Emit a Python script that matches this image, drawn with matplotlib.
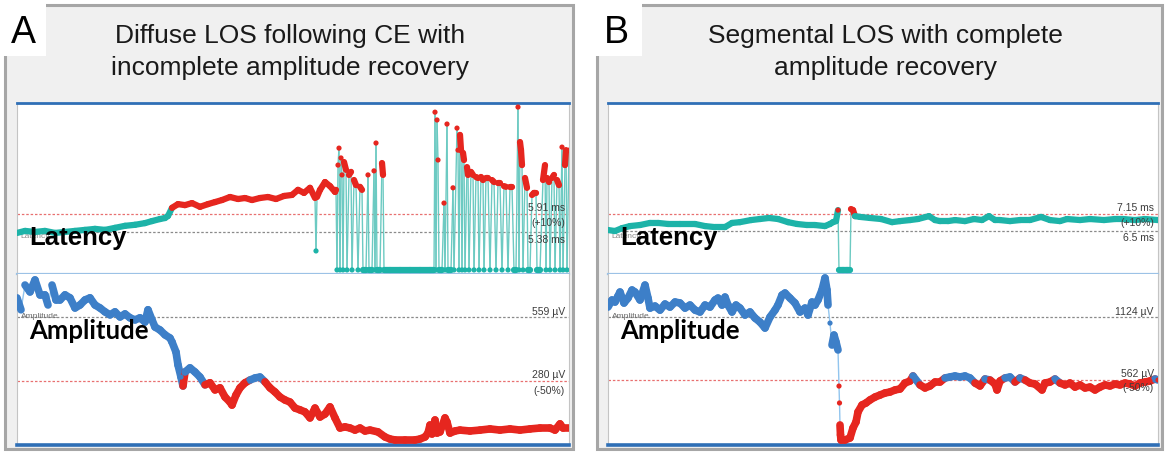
import matplotlib
matplotlib.use("Agg")
import matplotlib.pyplot as plt
import numpy as np
from matplotlib.collections import LineCollection
from matplotlib.patches import Rectangle

plt.rcParams["font.family"] = ["Liberation Sans", "DejaVu Sans"]

# ── data ────────────────────────────────────────────────────────────────────
# Panel A: latency (ms) vs. time index
a_lat_t = [
    0, 8, 18, 28, 38, 48, 58, 68, 78, 88,
    98, 108, 118, 128, 135, 143, 148, 151, 155, 161,
    168, 175, 183, 191, 198, 205, 213, 221, 228, 235,
    243, 251, 259, 267, 275, 281, 287, 293, 298, 299,
    300, 303, 308, 313, 318,
    319, 320, 321, 322, 323, 324, 325, 326, 327, 329,
    330, 332, 334, 335, 337, 339, 341, 343, 345, 346,
    349, 351, 352, 355, 357, 358, 359, 360, 363, 365,
    366, 367, 373, 383, 393, 403, 413, 417, 418, 419,
    420, 421, 422, 425, 427, 428, 430, 431, 434, 436,
    437, 440, 441, 442, 443, 444, 445, 446, 447, 448,
    450, 451, 452, 454, 456, 457, 459, 461, 462, 464,
    466, 467, 469, 471, 473, 475, 477, 479, 481, 483,
    485, 487, 489, 491, 493, 495, 497, 499, 501, 502,
    503, 504, 505, 506, 508, 510, 511, 513, 515, 517,
    519, 520, 523, 526, 528, 529, 530, 532, 533, 535,
    537, 538, 540, 542, 543, 545, 546, 548, 549, 550,
    552,
]
a_lat_ms = [
    5.35, 5.41, 5.38, 5.41, 5.35, 5.38, 5.41, 5.44, 5.47, 5.44,
    5.50, 5.56, 5.59, 5.64, 5.70, 5.76, 5.79, 5.85, 6.09, 6.20,
    6.17, 6.23, 6.12, 6.20, 6.26, 6.32, 6.41, 6.35, 6.38, 6.32,
    6.38, 6.41, 6.35, 6.44, 6.47, 6.62, 6.53, 6.68, 6.38, 4.82,
    6.41, 6.62, 6.85, 6.73, 6.56,
    6.62, 4.26, 7.35, 7.85, 4.26, 7.56, 7.06, 4.26, 7.44, 7.21,
    4.26, 7.06, 7.15, 4.26, 6.91, 6.76, 4.26, 6.71, 6.62, 4.26,
    4.26, 7.06, 4.26, 4.26, 7.18, 4.26, 8.00, 4.26, 4.26, 7.41,
    7.06, 4.26, 4.26, 4.26, 4.26, 4.26, 4.26, 4.26, 8.91, 4.26,
    8.68, 7.50, 4.26, 4.26, 6.23, 4.26, 8.56, 4.26, 4.26, 6.68,
    4.26, 8.44, 7.79, 4.26, 8.24, 7.79, 4.26, 7.71, 7.50, 4.26,
    7.29, 7.06, 4.26, 7.15, 7.06, 4.26, 7.00, 6.97, 4.26, 7.00,
    6.91, 4.26, 6.97, 6.97, 4.26, 6.91, 6.85, 4.26, 6.82, 6.82,
    4.26, 6.73, 6.71, 4.26, 6.71, 6.71, 4.26, 4.26, 9.06, 4.26,
    8.03, 7.79, 7.35, 4.26, 6.97, 6.68, 4.26, 4.26, 6.47, 6.53,
    6.53, 4.26, 4.26, 6.91, 7.35, 4.26, 6.97, 6.85, 4.26, 6.97,
    7.06, 4.26, 6.91, 6.76, 4.26, 7.88, 4.26, 7.35, 7.79, 4.26,
    7.79,
]
a_lat_base, a_lat_alarm = 5.38, 5.91

# Panel A: amplitude (µV)
a_amp_t = [
    0, 4, 8, 13, 18, 23, 28, 31, 35, 39,
    43, 48, 53, 58, 63, 68, 73, 78, 83, 88,
    93, 98, 103, 108, 113, 118, 123, 128, 131, 135,
    138, 143, 148, 153, 155, 159, 161, 164, 166, 168,
    173, 178, 183, 188, 193, 198, 203, 208, 213, 215,
    219, 223, 228, 233, 238, 243, 248, 253, 258, 263,
    268, 273, 278, 283, 288, 293, 298, 303, 308, 313,
    318, 323, 328, 333, 338, 343, 348, 353, 361, 368,
    373, 378, 388, 398, 403, 408, 411, 413, 415, 418,
    420, 423, 428, 430, 433, 438, 443, 453, 463, 473,
    483, 493, 503, 513, 523, 533, 538, 543, 546, 552,
]
a_amp_uv = [
    642, 590, 698, 668, 720, 655, 655, 611, 698, 633,
    633, 655, 642, 598, 611, 633, 642, 611, 598, 581,
    568, 581, 559, 572, 555, 546, 555, 537, 590, 546,
    515, 502, 481, 467, 450, 406, 350, 297, 258, 319,
    337, 319, 297, 263, 272, 241, 250, 210, 188, 175,
    219, 250, 272, 284, 293, 297, 276, 250, 232, 210,
    197, 188, 162, 154, 145, 119, 162, 123, 136, 167,
    119, 75, 80, 75, 66, 75, 62, 66, 58, 36,
    27, 23, 23, 23, 27, 36, 53, 88, 49, 110,
    53, 58, 119, 101, 53, 62, 66, 62, 66, 71,
    66, 71, 66, 71, 75, 75, 66, 93, 75, 75,
]
a_amp_base, a_amp_alarm = 559, 280

# Panel B: latency (ms)
b_lat_t = [
    0, 7, 14, 22, 32, 42, 50, 60, 72, 87,
    97, 107, 117, 124, 132, 143, 152, 161, 170, 180,
    189, 199, 207, 217, 222, 225, 228, 230, 231, 235,
    239, 242, 243, 245, 247, 252, 262, 273, 284, 292,
    302, 310, 321, 327, 332, 340, 347, 357, 366, 374,
    381, 387, 392, 402, 412, 422, 433, 442, 452, 459,
    472, 482, 496, 507, 515, 527, 537, 550,
]
b_lat_ms = [
    6.54, 6.50, 6.61, 6.69, 6.73, 6.81, 6.81, 6.77, 6.77, 6.77,
    6.69, 6.65, 6.65, 6.81, 6.84, 6.92, 6.96, 7.00, 6.96, 6.84,
    6.77, 6.73, 6.73, 6.69, 6.77, 6.84, 6.88, 7.30, 5.01, 5.01,
    5.01, 5.01, 7.34, 7.30, 7.07, 7.04, 7.00, 6.96, 6.84, 6.88,
    6.92, 6.96, 7.07, 6.92, 6.88, 6.88, 6.92, 6.88, 6.96, 6.92,
    7.07, 6.92, 6.92, 6.88, 6.92, 6.92, 7.04, 6.92, 6.88, 6.96,
    6.92, 6.96, 6.92, 6.96, 6.96, 6.92, 6.96, 6.92,
]
b_lat_base, b_lat_alarm = 6.5, 7.15

# Panel B: amplitude (µV)
b_amp_t = [
    0, 4, 7, 10, 12, 16, 20, 24, 27, 32,
    37, 40, 42, 47, 52, 57, 62, 67, 72, 77,
    82, 87, 92, 97, 102, 107, 110, 114, 117, 120,
    124, 128, 132, 137, 142, 147, 152, 157, 162, 167,
    170, 174, 177, 182, 187, 192, 197, 200, 204, 207,
    210, 214, 217, 219, 220, 222, 224, 226, 228, 230,
    231, 231.5, 232, 232.5, 233, 237, 242, 245, 248, 250,
    254, 258, 262, 267, 272, 277, 282, 287, 292, 297,
    302, 305, 312, 317, 322, 327, 332, 337, 342, 347,
    352, 357, 362, 367, 372, 377, 382, 387, 389, 392,
    397, 402, 407, 412, 417, 422, 427, 434, 437, 442,
    447, 452, 457, 462, 467, 472, 477, 482, 487, 492,
    497, 502, 507, 512, 517, 522, 527, 532, 537, 542,
    547, 550,
]
b_amp_uv = [
    1213, 1276, 1258, 1311, 1347, 1249, 1293, 1365, 1347, 1276,
    1409, 1293, 1204, 1222, 1186, 1240, 1213, 1258, 1249, 1204,
    1231, 1186, 1169, 1231, 1213, 1276, 1293, 1231, 1302, 1231,
    1169, 1231, 1204, 1142, 1169, 1115, 1079, 1026, 1124, 1186,
    1231, 1320, 1338, 1293, 1249, 1169, 1204, 1142, 1258, 1231,
    1276, 1365, 1472, 1365, 1231, 1070, 874, 963, 901, 830,
    508, 357, 161, 72, 27, 27, 45, 134, 187, 277,
    339, 357, 384, 410, 428, 446, 455, 473, 482, 535,
    553, 598, 518, 491, 509, 544, 544, 580, 589, 598,
    589, 598, 580, 535, 509, 571, 562, 526, 473, 553,
    580, 589, 544, 580, 562, 535, 526, 473, 535, 544,
    571, 535, 518, 535, 499, 518, 491, 499, 473, 499,
    518, 509, 526, 518, 535, 526, 509, 535, 544, 553,
    571, 562,
]
b_amp_base, b_amp_alarm = 1124, 562

# ── styling ───────────────────────────────────────────────────────────────
W, H = 1168, 457
RED = "#e6261f"
TEAL = "#1db3a8"
BLUE = "#3d7fc8"
TEAL_STEM = "#6ccac2"
BLUE_STEM = "#92c5ee"
EDGE_BLUE = "#2f6fb6"
SEP_BLUE = "#9cc2e6"
LABEL_FONT = ["Liberation Sans Narrow", "Liberation Sans", "DejaVu Sans"]


def px_rect(x0, y0, x1, y1):
    """pixel box (top-left origin) -> figure fraction rect."""
    return [x0 / W, 1 - y1 / H, (x1 - x0) / W, (y1 - y0) / H]


def setup_ax(ax, xmax, ylim, top, bottom):
    ax.set_xlim(0, xmax)
    ax.set_ylim(*ylim)
    ax.set_xticks([])
    ax.set_yticks([])
    for s in ("left", "right"):
        ax.spines[s].set_color("#c4c4c4")
        ax.spines[s].set_linewidth(0.8)
    for s, spec in (("top", top), ("bottom", bottom)):
        if spec is None:
            ax.spines[s].set_visible(False)
        else:
            ax.spines[s].set_color(spec[0])
            ax.spines[s].set_linewidth(spec[1])


def draw_trace(ax, t, v, thr, hi_col, lo_col, stem_col, lw):
    t = np.asarray(t, float)
    v = np.asarray(v, float)
    col = np.where(v > thr, hi_col, lo_col)
    pts = np.column_stack([t, v])
    segs = np.stack([pts[:-1], pts[1:]], axis=1)
    lo, hi = ax.get_ylim()
    jump = np.abs(np.diff(v)) > 0.09 * (hi - lo)
    ax.add_collection(LineCollection(segs[jump], colors=stem_col,
                                     linewidths=1.0, zorder=2))
    ax.add_collection(LineCollection(segs[~jump], colors=list(col[:-1][~jump]),
                                     linewidths=lw, capstyle="round", zorder=3))
    ax.scatter(t, v, s=14, c=list(col), linewidths=0, zorder=4)


def thresh(ax, base, alarm, labels):
    """labels: (text, 'alarm'|'base', dy in points)."""
    ax.axhline(alarm, color="#e87070", lw=0.9, ls=(0, (2, 1.5)), zorder=1)
    ax.axhline(base, color="#8a8a8a", lw=0.9, ls=(0, (2, 1.5)), zorder=1)
    for txt, which, dy in labels:
        yv = alarm if which == "alarm" else base
        ax.annotate(txt, xy=(1, yv), xycoords=("axes fraction", "data"),
                    xytext=(-3, dy), textcoords="offset points",
                    ha="right", va="center", fontsize=7.5, color="#3c3c3c",
                    family=LABEL_FONT, zorder=5)


def draw_panel(fig, frame, x0, x1, tag, tag_box, title, title_cx,
               lat_t, lat_v, lat_lim, lat_thr, lat_lab,
               amp_t, amp_v, amp_lim, amp_thr, amp_lab):
    fx0, fy0, fx1, fy1 = frame
    fig.patches.append(Rectangle((fx0 / W, 1 - fy1 / H), (fx1 - fx0) / W,
                                 (fy1 - fy0) / H, transform=fig.transFigure,
                                 facecolor="#f0f0f0", edgecolor="#a6a6a6",
                                 lw=2.2, zorder=-2))
    bx0, by0, bx1, by1 = tag_box
    fig.patches.append(Rectangle((bx0 / W, 1 - by1 / H), (bx1 - bx0) / W,
                                 (by1 - by0) / H, transform=fig.transFigure,
                                 facecolor="white", edgecolor="none", zorder=-1))
    fig.text((bx0 + bx1) / 2 / W, 1 - 33 / H, tag, fontsize=27,
             ha="center", va="center")
    fig.text(title_cx / W, 1 - 52 / H, title, fontsize=19, ha="center",
             va="center", linespacing=1.45, color="#1a1a1a")

    xmax = x1 - x0
    ax_lat = fig.add_axes(px_rect(x0, 103, x1, 274))
    setup_ax(ax_lat, xmax, lat_lim, (EDGE_BLUE, 2.0), (SEP_BLUE, 1.6))
    ax_amp = fig.add_axes(px_rect(x0, 274, x1, 445))
    setup_ax(ax_amp, xmax, amp_lim, None, (EDGE_BLUE, 2.6))

    thresh(ax_lat, lat_thr[0], lat_thr[1], lat_lab)
    thresh(ax_amp, amp_thr[0], amp_thr[1], amp_lab)

    draw_trace(ax_lat, lat_t, lat_v, lat_thr[1], RED, TEAL, TEAL_STEM, 4.5)
    draw_trace(ax_amp, amp_t, amp_v, amp_thr[1], BLUE, RED, BLUE_STEM, 5.5)

    # software labels underneath, big annotation labels on top
    ax_lat.text(0.006, 0.22, "Latency", transform=ax_lat.transAxes,
                fontsize=6, color="#8a8a8a", va="center", zorder=1)
    ax_amp.text(0.008, 0.75, "Amplitude", transform=ax_amp.transAxes,
                fontsize=6, color="#6a6a6a", va="center", zorder=1)
    fig.text((x0 + 12) / W, 1 - 238 / H, "Latency", fontsize=18.5,
             fontweight="bold", va="center", zorder=10)
    fig.text((x0 + 12) / W, 1 - 331 / H, "Amplitude", fontsize=18.5,
             fontweight="bold", va="center", zorder=10,
             family=["Lato", "DejaVu Sans"])


fig = plt.figure(figsize=(W / 100, H / 100), dpi=100)

draw_panel(
    fig, (5, 5, 573, 449), 17, 569, "A", (0, 0, 46, 56),
    "Diffuse LOS following CE with\nincomplete amplitude recovery", 290,
    a_lat_t, a_lat_ms, (4.14, 9.18), (a_lat_base, a_lat_alarm),
    [("5.91 ms", "alarm", 4.3), ("(+10%)", "alarm", -6.5),
     ("5.38 ms", "base", -5.5)],
    a_amp_t, a_amp_uv, (1, 746), (a_amp_base, a_amp_alarm),
    [("559 µV", "base", 3.6), ("280 µV", "alarm", 4.3),
     ("(-50%)", "alarm", -7.5)],
)
draw_panel(
    fig, (597, 5, 1162, 449), 608, 1158, "B", (590, 0, 642, 56),
    "Segmental LOS with complete\namplitude recovery", 885,
    b_lat_t, b_lat_ms, (4.86, 11.39), (b_lat_base, b_lat_alarm),
    [("7.15 ms", "alarm", 4.3), ("(+10%)", "alarm", -6.5),
     ("6.5 ms", "base", -5.0)],
    b_amp_t, b_amp_uv, (-18, 1508), (b_amp_base, b_amp_alarm),
    [("1124 µV", "base", 3.6), ("562 µV", "alarm", 4.3),
     ("(-50%)", "alarm", -6.0)],
)

fig.savefig("out.png", dpi=100)
